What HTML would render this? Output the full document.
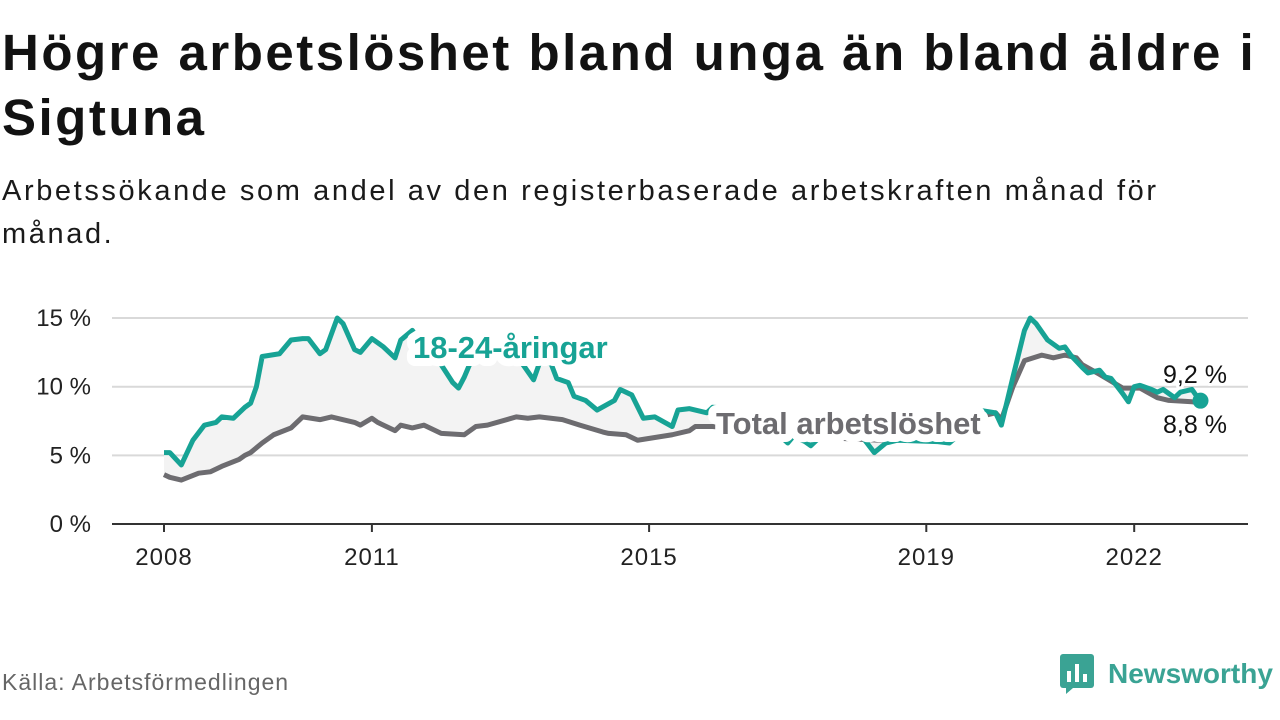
<!DOCTYPE html>
<html><head><meta charset="utf-8">
<style>
body{margin:0;width:1280px;height:720px;background:#fff;font-family:"Liberation Sans",sans-serif;overflow:hidden;position:relative}
h1{position:absolute;left:2px;top:20px;margin:0;font-size:51px;line-height:65px;font-weight:bold;color:#121212;letter-spacing:2.5px;white-space:nowrap}
.sub{position:absolute;left:2px;top:170px;font-size:29px;line-height:43px;color:#1a1a1a;width:1200px;letter-spacing:2.6px}
.src{position:absolute;left:2px;top:669px;font-size:23px;color:#666;letter-spacing:1px}
.logo{position:absolute;left:1060px;top:654px;display:flex;align-items:center}
.logo span{font-size:28px;font-weight:bold;color:#3aa394;margin-left:14px}
</style></head><body>
<h1>Högre arbetslöshet bland unga än bland äldre i<br>Sigtuna</h1>
<div class="sub">Arbetssökande som andel av den registerbaserade arbetskraften månad för månad.</div>
<svg id="chart" width="1280" height="720" style="position:absolute;left:0;top:0" font-family="Liberation Sans, sans-serif"></svg>
<div class="src">Källa: Arbetsförmedlingen</div>
<div class="logo">
<svg width="34" height="40" viewBox="0 0 34 40"><rect x="0" y="0" width="34" height="34" rx="3" fill="#3aa394"/><path d="M6 34 L6 40 L13 34Z" fill="#3aa394"/><rect x="7" y="17" width="4" height="11" fill="#fff"/><rect x="15" y="10" width="4" height="18" fill="#fff"/><rect x="23" y="20" width="4" height="8" fill="#fff"/></svg>
<span>Newsworthy</span></div>
<script>
const yTicks=[0,5,10,15];
const yTickLabels=["0 %","5 %","10 %","15 %"];
const xTickMonths=[0,36,84,132,168];
const xTickLabels=["2008","2011","2015","2019","2022"];
const youthMonths=[0,1,3,5,7,9,10,12,14,15,16,17,20,22,24,25,27,28,30,31,33,34,36,38,40,41,43,45,47,48,50,51,52,53,55,58,61,62,64,65,67,68,70,71,73,75,78,79,81,83,85,88,89,91,94,95,99,102,105,107,108,109,111,112,113,116,119,121,123,125,127,134,136,139,141,144,145,147,149,150,151,153,155,156,157,159,160,162,163,164,166,167,168,169,171,172,173,175,176,178,179,180];
const youthValues=[5.2,5.2,4.3,6.1,7.2,7.4,7.8,7.7,8.5,8.8,10,12.2,12.4,13.4,13.5,13.5,12.4,12.7,15.0,14.6,12.7,12.5,13.5,12.9,12.1,13.4,14.1,13.0,12.5,11.6,10.3,9.9,10.7,11.7,12.5,12.5,12.0,11.7,10.5,11.7,11.7,10.6,10.3,9.3,9.0,8.3,9.0,9.8,9.4,7.7,7.8,7.1,8.3,8.4,8.1,8.5,8.4,7.5,6.8,6.3,5.9,6.4,6.0,5.7,6.1,6.8,6.8,6.3,5.2,5.9,6.1,6.0,5.9,7.0,8.3,8.1,7.2,10.7,14.1,15.0,14.6,13.4,12.8,12.9,12.3,11.4,11.0,11.2,10.7,10.6,9.5,8.9,10.0,10.1,9.8,9.6,9.8,9.2,9.6,9.8,9.2,9.2];
const totalMonths=[0,1,3,6,8,10,13,14,15,17,19,22,24,27,29,33,34,36,37,40,41,43,45,48,52,54,56,61,63,65,69,72,76,77,80,82,85,88,91,92,95,103,114,124,134,141,144,145,147,149,152,154,156,158,159,162,166,169,172,174,178,180];
const totalValues=[3.6,3.4,3.2,3.7,3.8,4.2,4.7,5.0,5.2,5.9,6.5,7.0,7.8,7.6,7.8,7.4,7.2,7.7,7.4,6.8,7.2,7.0,7.2,6.6,6.5,7.1,7.2,7.8,7.7,7.8,7.6,7.2,6.7,6.6,6.5,6.1,6.3,6.5,6.8,7.1,7.1,6.8,6.3,6.1,6.5,7.8,8.1,7.6,10.0,11.9,12.3,12.1,12.3,12.1,11.6,10.9,9.9,9.9,9.2,9.0,8.9,8.8];

const NS="http://www.w3.org/2000/svg";
const svg=document.getElementById('chart');
const xs=m=>164+m*5.775, ys=v=>524-v*13.73;
function mk(t,a){const e=document.createElementNS(NS,t);for(const k in a)e.setAttribute(k,a[k]);svg.appendChild(e);return e;}
yTicks.forEach((v,i)=>{
  if(v>0){const g=mk('line',{x1:112,x2:1248,y1:ys(v),y2:ys(v),stroke:'#d9d9d9','stroke-width':2});
  
  }
  const t=mk('text',{x:91,y:ys(v)+8,'text-anchor':'end','font-size':24,fill:'#222'});t.textContent=yTickLabels[i];
  
  
});
const base=mk('line',{x1:112,x2:1248,y1:ys(0),y2:ys(0),stroke:'#333','stroke-width':2});


xTickMonths.forEach((m,i)=>{
  const tk=mk('line',{x1:xs(m),x2:xs(m),y1:ys(0),y2:ys(0)+8,stroke:'#333','stroke-width':2});
  
  
  const t=mk('text',{x:xs(m),y:565,'text-anchor':'middle','font-size':24,fill:'#222','letter-spacing':1});t.textContent=xTickLabels[i];
  
  
});
const yp=youthMonths.map((m,i)=>[xs(m),ys(youthValues[i])]);
const tp=totalMonths.map((m,i)=>[xs(m),ys(totalValues[i])]);
const area=mk('path',{d:'M'+yp.map(p=>p.join(',')).join('L')+'L'+tp.slice().reverse().map(p=>p.join(',')).join('L')+'Z',fill:'#f3f3f3'});


const lt=mk('path',{d:'M'+tp.map(p=>p.join(',')).join('L'),fill:'none',stroke:'#6d6c70','stroke-width':5,'stroke-linejoin':'round'});


const ly=mk('path',{d:'M'+yp.map(p=>p.join(',')).join('L'),fill:'none',stroke:'#17a395','stroke-width':5,'stroke-linejoin':'round'});


const last=yp[yp.length-1];
const dot=mk('circle',{cx:last[0]-3,cy:last[1]+3,r:8,fill:'#17a395'});


function lab(txt,x,y,col,size,bold,name){
  const t=mk('text',{x:x,y:y,'font-size':size,'font-weight':bold?'bold':'normal',fill:col,stroke:'#fff','stroke-width':bold?16:6,'stroke-linejoin':'round','paint-order':'stroke'});
  t.textContent=txt;
  
  
}
lab('18-24-åringar',413,358,'#17a395',31,true,'youth-series-label');
lab('Total arbetslöshet',716,434,'#6d6c70',31,true,'total-series-label');
lab('9,2 %',1163,383,'#111',25,false,'youth-end-value');
lab('8,8 %',1163,433,'#111',25,false,'total-end-value');
</script>
</body></html>
